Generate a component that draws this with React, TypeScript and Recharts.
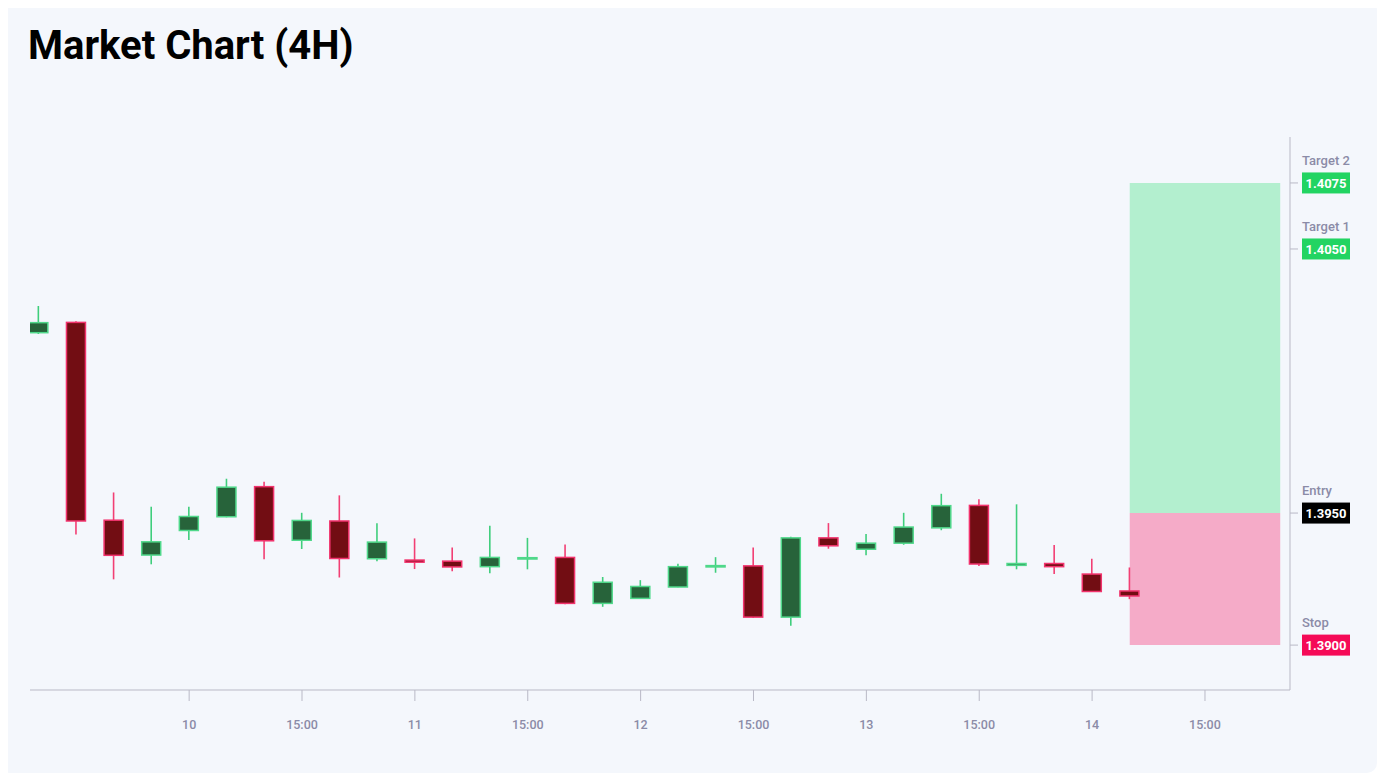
import React from "react";
import { ComposedChart, Bar, XAxis, YAxis, ReferenceArea } from "recharts";

// 4H candles, index 0..29
const candleIdx = [
  0, 1, 2, 3, 4, 5, 6, 7, 8, 9, 10, 11, 12, 13, 14, 15, 16, 17, 18, 19, 20, 21,
  22, 23, 24, 25, 26, 27, 28, 29,
];
const opens = [
  1.40183, 1.40222, 1.39473, 1.39341, 1.39434, 1.39486, 1.396, 1.39397, 1.3947,
  1.39327, 1.39322, 1.39318, 1.39297, 1.39326, 1.39332, 1.39158, 1.39177, 1.3922,
  1.39296, 1.393, 1.39106, 1.39406, 1.39363, 1.39386, 1.39444, 1.39529, 1.39302,
  1.39309, 1.39269, 1.39205,
];
const highs = [
  1.40284, 1.40226, 1.39578, 1.39524, 1.39524, 1.3963, 1.39619, 1.39501, 1.39567,
  1.39461, 1.39404, 1.3937, 1.39452, 1.39406, 1.39381, 1.39258, 1.39246, 1.39308,
  1.39333, 1.3937, 1.3941, 1.39462, 1.39421, 1.39501, 1.39573, 1.39552, 1.39533,
  1.39379, 1.39327, 1.39294,
];
const lows = [
  1.40178, 1.39419, 1.39249, 1.39306, 1.39398, 1.39484, 1.39325, 1.39364, 1.39256,
  1.39318, 1.39288, 1.3928, 1.39272, 1.39287, 1.39155, 1.39145, 1.39176, 1.39219,
  1.39274, 1.39103, 1.39073, 1.39365, 1.3934, 1.3938, 1.39435, 1.393, 1.39287,
  1.39269, 1.39201, 1.39174,
];
const closes = [
  1.40221, 1.3947, 1.3934, 1.39391, 1.39487, 1.39598, 1.39395, 1.39472, 1.39328,
  1.3939, 1.39314, 1.39296, 1.39332, 1.39331, 1.39158, 1.39238, 1.39222, 1.39297,
  1.39301, 1.39106, 1.39406, 1.39376, 1.39386, 1.39447, 1.39528, 1.39307, 1.39309,
  1.39297, 1.39203, 1.39186,
];

const xTicks = [4, 7, 10, 13, 16, 19, 22, 25, 28, 31];
const xTickLabels = ["10", "15:00", "11", "15:00", "12", "15:00", "13", "15:00", "14", "15:00"];

// trade levels
const levelValues = [1.39, 1.395, 1.405, 1.4075];
const levelNames = ["Stop", "Entry", "Target 1", "Target 2"];
const levelColors = ["#f50a57", "#000000", "#22d462", "#22d462"];

const zoneStart = 29;
const zoneEnd = 33;

const data = candleIdx.map((i) => ({
  i,
  open: opens[i],
  high: highs[i],
  low: lows[i],
  close: closes[i],
}));

const Candle = (props: any) => {
  const { x, y, width, height, payload } = props;
  if (!payload) return null;
  const { open, close, high, low } = payload;
  const up = close >= open;
  const top = Math.min(y, y + height);
  const h = Math.abs(height);
  const k = h / (high - low || 1e-9);
  const yOf = (v: number) => top + (high - v) * k;
  const bTop = yOf(Math.max(open, close));
  const bH = Math.max(yOf(Math.min(open, close)) - bTop, 1.2);
  const cx = x + width / 2;
  const fill = up ? "#27633a" : "#720d13";
  const stroke = up ? "#4fd88a" : "#f2336d";
  const wick = up ? "#3fce7c" : "#f23f74";
  return (
    <g>
      <line x1={cx} x2={cx} y1={top} y2={top + h} stroke={wick} strokeWidth={1.6} />
      <rect x={x} y={bTop} width={width} height={bH} fill={fill} stroke={stroke} strokeWidth={1.5} />
    </g>
  );
};

const LevelTick = (props: any) => {
  const { x, y, payload } = props;
  const idx = levelValues.findIndex((v) => Math.abs(v - payload.value) < 1e-7);
  if (idx < 0) return null;
  return (
    <g>
      <text
        x={x}
        y={y - 23}
        dy="0.35em"
        fill="#8b8ba7"
        fontSize={13}
        fontWeight={500}
        fontFamily="Roboto"
      >
        {levelNames[idx]}
      </text>
      <rect x={x} y={y - 10.5} width={48} height={21} fill={levelColors[idx]} />
      <text
        x={x + 24}
        y={y}
        dy="0.36em"
        textAnchor="middle"
        fill="#ffffff"
        fontSize={13}
        fontWeight={700}
        fontFamily="Roboto"
      >
        {payload.value.toFixed(4)}
      </text>
    </g>
  );
};

const App: React.FC = () => {
  return (
    <div
      style={{
        position: "relative",
        margin: "-8px 0 0 -8px",
        width: 1377,
        height: 773,
        background: "#f4f7fc",
        borderRadius: 10,
        fontFamily: "Roboto",
      }}
    >
      <div
        style={{
          position: "absolute",
          left: 28,
          top: 26,
          fontSize: 40,
          lineHeight: "40px",
          fontWeight: 700,
          color: "#000",
        }}
      >
        Market Chart (4H)
      </div>
      <div style={{ position: "absolute", left: 0, top: 0 }}>
        <ComposedChart
          width={1377}
          height={773}
          data={data}
          margin={{ top: 137, right: 7, bottom: 33, left: 30 }}
        >
          <XAxis
            dataKey="i"
            type="number"
            domain={[-0.23, 33.26]}
            allowDataOverflow
            ticks={xTicks}
            tickFormatter={(v: number) => xTickLabels[xTicks.indexOf(v)] ?? ""}
            stroke="#b9b9c6"
            tickSize={11}
            tickMargin={19}
            height={50}
            tick={{ fill: "#8b8ba7", fontSize: 12.5, fontWeight: 500, fontFamily: "Roboto" }}
          />
          <YAxis
            orientation="right"
            type="number"
            domain={[1.3883, 1.40924]}
            allowDataOverflow
            ticks={levelValues}
            width={80}
            stroke="#b9b9c6"
            tickSize={8}
            tickMargin={4}
            tick={<LevelTick />}
          />
          <ReferenceArea
            x1={zoneStart}
            x2={zoneEnd}
            y1={levelValues[1]}
            y2={levelValues[3]}
            fill="#b3efcf"
            fillOpacity={1}
            stroke="none"
          />
          <ReferenceArea
            x1={zoneStart}
            x2={zoneEnd}
            y1={levelValues[0]}
            y2={levelValues[1]}
            fill="#f5abc8"
            fillOpacity={1}
            stroke="none"
          />
          <Bar
            dataKey={(d: any) => [d.low, d.high]}
            barSize={19}
            shape={<Candle />}
            isAnimationActive={false}
          />
        </ComposedChart>
      </div>
    </div>
  );
};

export default App;
